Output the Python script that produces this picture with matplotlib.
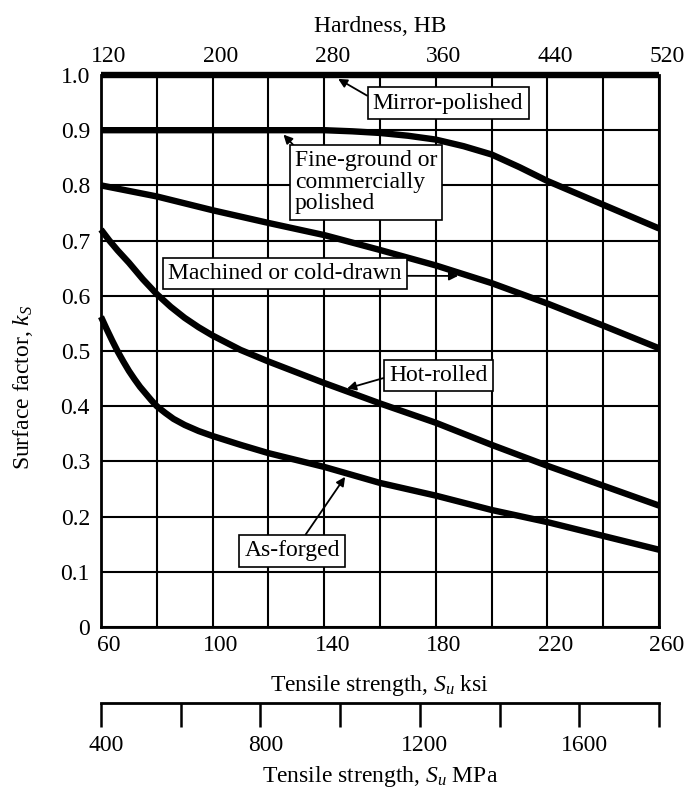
import matplotlib
matplotlib.use("Agg")
import matplotlib.pyplot as plt
from matplotlib.transforms import ScaledTranslation

plt.rcParams["font.family"] = ["Liberation Serif", "DejaVu Serif"]
plt.rcParams["mathtext.fontset"] = "custom"
plt.rcParams["mathtext.rm"] = "Liberation Serif"
plt.rcParams["mathtext.it"] = "Liberation Serif:italic"
plt.rcParams["font.size"] = 17

# ---- data: surface factor k_S vs tensile strength (ksi) ----
mirror_ksi = [60, 260]
mirror_ks = [1.0, 1.0]

fine_ksi = [60, 80, 100, 120, 140, 150, 160, 170, 180, 190, 200, 210, 220, 240, 260]
fine_ks = [0.90, 0.90, 0.90, 0.90, 0.90, 0.898, 0.895, 0.890, 0.883, 0.871, 0.856,
           0.833, 0.808, 0.765, 0.722]

machined_ksi = [60, 80, 100, 120, 140, 160, 180, 200, 220, 240, 260]
machined_ks = [0.80, 0.78, 0.755, 0.732, 0.71, 0.683, 0.655, 0.623, 0.586, 0.546, 0.505]

hot_ksi = [60, 63, 66, 70, 75, 80, 85, 90, 95, 100, 110, 120, 140, 160, 180, 200,
           220, 240, 260]
hot_ks = [0.72, 0.70, 0.682, 0.66, 0.63, 0.603, 0.58, 0.56, 0.543, 0.528, 0.502,
          0.481, 0.442, 0.405, 0.37, 0.33, 0.292, 0.256, 0.22]

forged_ksi = [60, 62, 64, 66, 68, 70, 72, 74, 76, 78, 80, 83, 86, 90, 95, 100, 110,
              120, 140, 160, 180, 200, 220, 240, 260]
forged_ks = [0.562, 0.540, 0.519, 0.499, 0.481, 0.464, 0.449, 0.435, 0.423, 0.411,
             0.400, 0.388, 0.377, 0.366, 0.355, 0.346, 0.330, 0.315, 0.29, 0.261,
             0.238, 0.212, 0.19, 0.165, 0.14]

ksi_ticks = [60, 100, 140, 180, 220, 260]
ksi_grid = [80, 120, 160, 200, 240]
ks_ticks = [0, 0.1, 0.2, 0.3, 0.4, 0.5, 0.6, 0.7, 0.8, 0.9, 1.0]
ks_labels = ["0", "0.1", "0.2", "0.3", "0.4", "0.5", "0.6", "0.7", "0.8", "0.9", "1.0"]
hb_ticks = [120, 200, 280, 360, 440, 520]
mpa_ticks = [400, 600, 800, 1000, 1200, 1400, 1600, 1800]
mpa_labels = ["400", "", "800", "", "1200", "", "1600", ""]

W, H = 691, 789
fig = plt.figure(figsize=(W / 100, H / 100), dpi=100)
L, Rt = 101 / W, 659 / W
ax = fig.add_axes([L, 1 - 627 / H, Rt - L, (627 - 75) / H])
ax.set_xlim(60, 260)
ax.set_ylim(0, 1.0)

# grid
ax.set_xticks(ksi_ticks)
ax.set_xticks(ksi_grid, minor=True)
ax.set_yticks(ks_ticks)
ax.set_yticklabels(ks_labels)
ax.grid(True, which="both", color="black", lw=1.5)
ax.set_axisbelow(True)
ax.tick_params(axis="x", which="both", length=0, pad=6)
ax.tick_params(axis="y", which="both", length=0, pad=8)
for s in ax.spines.values():
    s.set_linewidth(2.0)
ax.spines["top"].set_visible(False)

shift = ScaledTranslation(0.08, 0, fig.dpi_scale_trans)
for lbl in ax.xaxis.get_majorticklabels():
    lbl.set_transform(lbl.get_transform() + shift)

ax.set_xlabel("Tensile strength, $S_u$ ksi", labelpad=12)
ax.set_ylabel("Surface factor, $k_S$")
ax.yaxis.set_label_coords(-0.118, 0.435)

# curves
for xs, ys in [(mirror_ksi, mirror_ks), (fine_ksi, fine_ks), (machined_ksi, machined_ks),
               (hot_ksi, hot_ks), (forged_ksi, forged_ks)]:
    ax.plot(xs, ys, color="black", lw=4.6, solid_joinstyle="round",
            solid_capstyle="butt", clip_on=False, zorder=3)

# hardness scale on top
sec = ax.secondary_xaxis("top", functions=(lambda k: 2 * k, lambda h: h / 2))
sec.set_xticks(hb_ticks)
sec.tick_params(length=0, pad=6)
sec.spines["top"].set_visible(False)
for lbl in sec.xaxis.get_majorticklabels():
    lbl.set_transform(lbl.get_transform() + shift)
sec.set_xlabel("Hardness, HB", labelpad=10)

# MPa scale below
ax2 = fig.add_axes([L, 1 - 703 / H, Rt - L, 0.0005])
ax2.set_xlim(400, 1800)
ax2.set_xticks(mpa_ticks)
ax2.set_xticklabels(mpa_labels)
ax2.patch.set_visible(False)
ax2.yaxis.set_visible(False)
for k in ["top", "left", "right"]:
    ax2.spines[k].set_visible(False)
ax2.spines["bottom"].set_linewidth(2.0)
ax2.tick_params(axis="x", direction="out", length=17, width=1.8, pad=6)
shift2 = ScaledTranslation(0.05, 0, fig.dpi_scale_trans)
for lbl in ax2.xaxis.get_majorticklabels():
    lbl.set_transform(lbl.get_transform() + shift2)
ax2.set_xlabel("Tensile strength, $S_u$ MPa", labelpad=6)

# curve labels
box = dict(boxstyle="square,pad=0.22", fc="white", ec="black", lw=1.2)
arrow = dict(arrowstyle="-|>", color="black", lw=1.3, mutation_scale=13,
             shrinkA=0, shrinkB=0)

ax.annotate("Mirror-polished", xy=(145, 0.993), xytext=(184.4, 0.949),
            ha="center", va="center", bbox=box, zorder=5,
            arrowprops=dict(arrow, relpos=(0, 0.7)))
ax.annotate("Fine-ground or\ncommercially\npolished", xy=(125.4, 0.892),
            xytext=(129.5, 0.806), ha="left", va="center", linespacing=1.05,
            bbox=dict(box, pad=0.3), zorder=5,
            arrowprops=dict(arrow, relpos=(0.09, 0.84), patchA=None))
ax.annotate("Machined or cold-drawn", xy=(188, 0.636), xytext=(126, 0.64),
            ha="center", va="center", bbox=box, zorder=5,
            arrowprops=dict(arrow, relpos=(1, 0.4)))
ax.annotate("Hot-rolled", xy=(148.2, 0.432), xytext=(163.4, 0.456),
            ha="left", va="center", bbox=box, zorder=5,
            arrowprops=dict(arrow, relpos=(0, 0.45)))
ax.annotate("As-forged", xy=(147.5, 0.272), xytext=(128.5, 0.138),
            ha="center", va="center", bbox=box, zorder=5,
            arrowprops=dict(arrow, relpos=(0.6, 1)))

fig.savefig("out.png", dpi=100)
